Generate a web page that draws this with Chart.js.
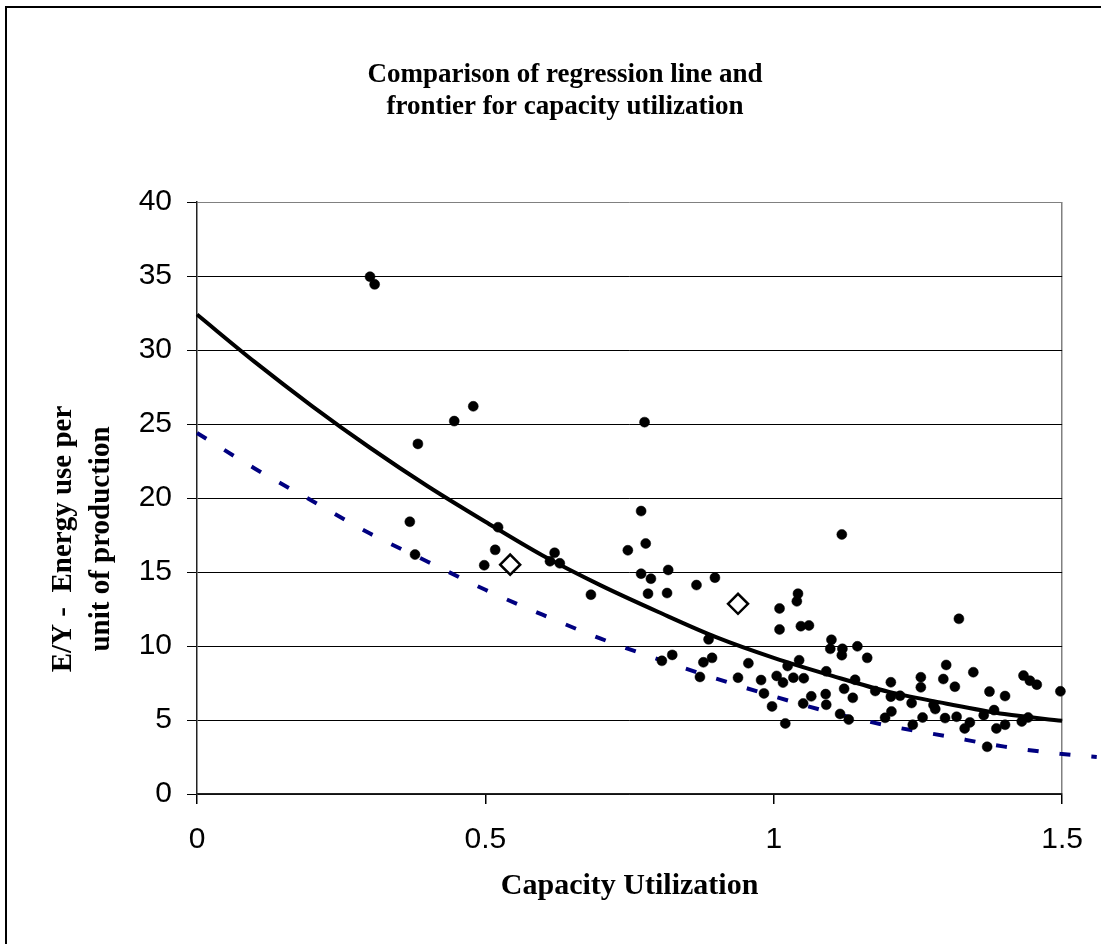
<!DOCTYPE html>
<html>
<head>
<meta charset="utf-8">
<script src="https://cdn.jsdelivr.net/npm/chart.js@4.4.1/dist/chart.umd.min.js"></script>
<style>
html, body { margin: 0; padding: 0; background: #fff; overflow: hidden; width: 1101px; height: 944px; }
#frame { position: absolute; left: 5px; top: 6px; width: 1200px; height: 1100px; border-left: 2px solid #000; border-top: 2px solid #000; }
#wrap { position: absolute; left: 0; top: 0; width: 1101px; height: 944px; }
</style>
</head>
<body>
<div id="frame"></div>
<div id="wrap"><canvas id="c" width="1101" height="944"></canvas></div>
<script>
// ---- Text ----
const chartTitle = ['Comparison of regression line and', 'frontier for capacity utilization'];
const xAxisTitle = 'Capacity Utilization';
const yAxisTitle = ['E/Y -  Energy use per', 'unit of production'];

// ---- Ticks ----
const xTicks = [0, 0.5, 1, 1.5];
const yTicks = [0, 5, 10, 15, 20, 25, 30, 35, 40];

// ---- Observations (black dots) ----
const obsX = [0.300, 0.308, 0.369, 0.378, 0.383, 0.446, 0.479, 0.498, 0.517, 0.522,
              0.612, 0.620, 0.629, 0.683, 0.747, 0.770, 0.770, 0.776, 0.778, 0.782,
              0.787, 0.806, 0.815, 0.817, 0.824, 0.866, 0.872, 0.878, 0.887, 0.893,
              0.898, 0.938, 0.956, 0.978, 0.983, 0.997, 1.005, 1.010, 1.010, 1.016,
              1.020, 1.024, 1.034, 1.040, 1.042, 1.044, 1.047, 1.051, 1.052, 1.061,
              1.065, 1.090, 1.091, 1.091, 1.098, 1.100, 1.115, 1.118, 1.118, 1.119,
              1.122, 1.130, 1.137, 1.141, 1.145, 1.162, 1.176, 1.193, 1.203, 1.203,
              1.204, 1.219, 1.239, 1.241, 1.255, 1.255, 1.258, 1.277, 1.280, 1.294,
              1.297, 1.299, 1.314, 1.317, 1.321, 1.331, 1.340, 1.346, 1.364, 1.370,
              1.374, 1.382, 1.386, 1.401, 1.401, 1.430, 1.433, 1.441, 1.444, 1.456,
              1.497];
const obsY = [34.96, 34.44, 18.40, 16.18, 23.66, 25.20, 26.20, 15.46, 16.50, 18.03,
              15.73, 16.30, 15.59, 13.47, 16.47, 19.12, 14.89, 25.13, 16.93, 13.54,
              14.55, 9.00, 13.58, 15.14, 9.40, 14.12, 7.91, 8.90, 10.45, 9.20,
              14.62, 7.86, 8.84, 7.70, 6.80, 5.92, 7.98, 12.54, 11.12, 7.53,
              4.77, 8.65, 7.86, 13.02, 13.54, 9.04, 11.34, 6.12, 7.82, 11.39,
              6.60, 6.75, 8.29, 6.03, 9.81, 10.42, 5.41, 17.54, 9.38, 9.81,
              7.11, 5.03, 6.50, 7.72, 9.98, 9.20, 6.96, 5.15, 7.55, 6.58,
              5.58, 6.64, 6.15, 4.68, 7.89, 7.21, 5.17, 6.01, 5.74, 7.77,
              5.13, 8.72, 7.25, 5.22, 11.84, 4.43, 4.84, 8.23, 5.33, 3.19,
              6.92, 5.67, 4.43, 6.62, 4.68, 4.90, 8.00, 5.17, 7.66, 7.39,
              6.94];

// ---- Highlighted observations (open diamonds) ----
const highlightX = [0.543, 0.938];
const highlightY = [15.50, 12.85];

// ---- Regression line (solid) ----
const regressionX = [0, 0.1, 0.2, 0.3, 0.4, 0.5, 0.6, 0.7, 0.8, 0.9, 1.0, 1.1, 1.2, 1.3, 1.4, 1.5];
const regressionY = [32.4, 29.2, 26.2, 23.4, 20.8, 18.4, 16.1, 14.1, 12.3, 10.6, 9.2, 8.0, 6.9, 6.1, 5.4, 4.95];

// ---- Frontier (dashed) ----
const frontierX = [0, 0.1, 0.2, 0.3, 0.4, 0.5, 0.6, 0.7, 0.8, 0.9, 1.0, 1.1, 1.2, 1.3, 1.4, 1.5, 1.56];
const frontierY = [24.4, 22.0, 19.8, 17.6, 15.7, 13.8, 12.1, 10.5, 9.1, 7.8, 6.6, 5.5, 4.6, 3.9, 3.2, 2.7, 2.5];

// ---- Axis ranges ----
const xRange = [0, 1.5];
const yRange = [0, 40];

const pts = (xs, ys) => xs.map((x, i) => ({ x: x, y: ys[i] }));

const yTitlePlugin = {
  id: 'yTitle',
  afterDraw(chart) {
    const ctx = chart.ctx;
    ctx.save();
    ctx.font = 'bold 29px "Liberation Serif", "Times New Roman", serif';
    ctx.fillStyle = '#000';
    ctx.textAlign = 'center';
    ctx.textBaseline = 'middle';
    const cy = 539;
    yAxisTitle.forEach((t, i) => {
      ctx.save();
      ctx.translate(64 + i * 38, cy);
      ctx.rotate(-Math.PI / 2);
      ctx.fillText(t, 0, 0);
      ctx.restore();
    });
    ctx.restore();
  }
};

new Chart(document.getElementById('c'), {
  type: 'scatter',
  data: {
    datasets: [
      {
        label: 'Highlighted',
        data: pts(highlightX, highlightY),
        pointStyle: 'rectRot',
        pointRadius: 10,
        pointBorderWidth: 2.5,
        pointBackgroundColor: '#fff',
        pointBorderColor: '#000',
        order: -1
      },
      {
        label: 'Observations',
        data: pts(obsX, obsY),
        pointStyle: 'circle',
        pointRadius: 5,
        pointBorderWidth: 0.5,
        pointBackgroundColor: '#000',
        pointBorderColor: '#000',
        order: 0
      },
      {
        label: 'Regression',
        data: pts(regressionX, regressionY),
        showLine: true,
        pointRadius: 0,
        borderColor: '#000',
        borderWidth: 4,
        cubicInterpolationMode: 'monotone',
        order: 2
      },
      {
        label: 'Frontier',
        data: pts(frontierX, frontierY),
        showLine: true,
        pointRadius: 0,
        borderColor: '#000080',
        borderWidth: 4,
        borderDash: [11, 21],
        borderCapStyle: 'butt',
        cubicInterpolationMode: 'monotone',
        clip: false,
        order: 3
      }
    ]
  },
  options: {
    responsive: false,
    devicePixelRatio: 1,
    animation: false,
    layout: { padding: { left: 66, right: 37, top: 0, bottom: 0 } },
    plugins: {
      legend: { display: false },
      tooltip: { enabled: false },
      title: {
        display: true,
        text: chartTitle,
        color: '#000',
        font: { family: '"Liberation Serif", "Times New Roman", serif', weight: 'bold', size: 27, lineHeight: 1.15 },
        padding: { top: 60, bottom: 80 }
      }
    },
    scales: {
      x: {
        type: 'linear',
        bounds: 'data',
        afterDataLimits: (s) => { s.min = xRange[0]; s.max = xRange[1]; },
        afterBuildTicks: (s) => { s.min = xRange[0]; s.max = xRange[1]; s.ticks = xTicks.map(v => ({ value: v })); },
        afterFit: (s) => { s.height = 150; },
        ticks: {
          color: '#000',
          padding: 18,
          font: { family: '"Liberation Sans", Arial, sans-serif', size: 30 },
          callback: (v) => String(v)
        },
        grid: {
          drawOnChartArea: true,
          color: (ctx) => (ctx.tick && ctx.tick.value === 1.5) ? '#808080' : 'rgba(0,0,0,0)',
          tickColor: '#000',
          tickLength: 10,
          lineWidth: 1.5
        },
        border: { display: true, color: '#222', width: 1.5 },
        title: {
          display: true,
          text: xAxisTitle,
          color: '#000',
          font: { family: '"Liberation Serif", "Times New Roman", serif', weight: 'bold', size: 30, lineHeight: 1.2 },
          padding: { top: 0, bottom: 40 }
        }
      },
      y: {
        type: 'linear',
        min: yRange[0],
        max: yRange[1],
        afterBuildTicks: (s) => { s.ticks = yTicks.map(v => ({ value: v })); },
        afterFit: (s) => { s.width = 131; },
        ticks: {
          color: '#000',
          padding: 15,
          font: { family: '"Liberation Sans", Arial, sans-serif', size: 30 },
          callback: (v) => String(v)
        },
        grid: {
          color: (ctx) => (ctx.tick && ctx.tick.value === 40) ? '#808080' : '#000',
          tickColor: '#000',
          tickLength: 10,
          lineWidth: 1
        },
        border: { display: true, color: '#222', width: 1.5 }
      }
    }
  },
  plugins: [yTitlePlugin]
});
</script>
</body>
</html>
